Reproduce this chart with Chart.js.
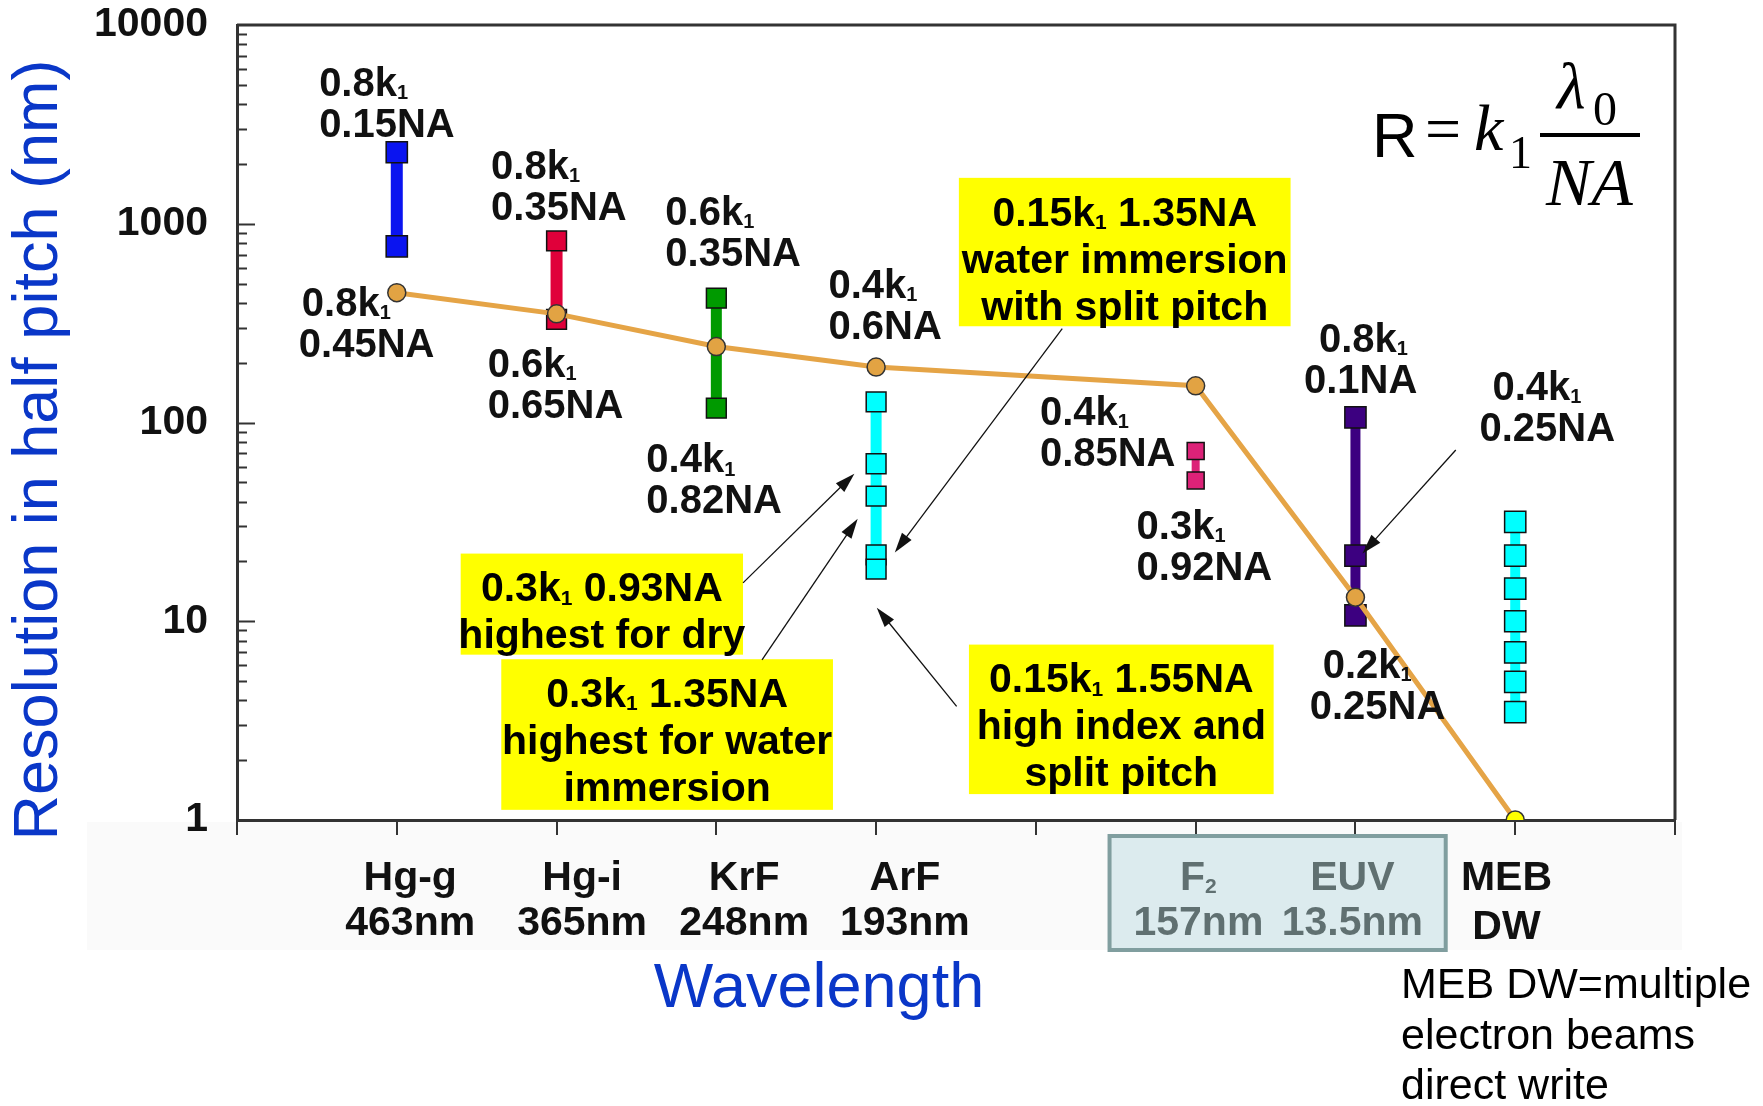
<!DOCTYPE html>
<html>
<head>
<meta charset="utf-8">
<script src="https://cdn.jsdelivr.net/npm/chart.js@4.4.0/dist/chart.umd.min.js"></script>
<style>
  html, body { margin: 0; padding: 0; background: #fff; }
  canvas { display: block; }
</style>
</head>
<body>
<canvas id="graf" width="1763" height="1106"></canvas>
<script>
// --- data ----------------------------------------------------------------
var categories = ['Hg-g', 'Hg-i', 'KrF', 'ArF', '', 'F~2', 'EUV', 'MEB'];
var wavelengths = ['463nm', '365nm', '248nm', '193nm', '', '157nm', '13.5nm', 'DW'];
var xLabelPos = [1.084, 2.16, 3.174, 4.18, 5, 6.017, 6.981, 7.945];
var yTicks = [1, 10, 100, 1000, 10000];

// orange line, resolution at each source (nm)
var lineX = [1, 2, 3, 4, 6, 7, 8];
var lineY = [450, 352, 241, 190, 153, 13.2, 1];

// range bars (nm)
var hggRange = [2290, 770];
var hgiRange = [820, 330];
var krfRange = [422, 118];
var arfRange = [127, 62, 42.6, 21.6, 18.3];
var f2Range = [71.8, 51.1];
var euvRange = [106, 21.4, 10.7];
var mebRange = [31.6, 21.4, 14.6, 10.0, 6.97, 4.96, 3.49];

// k1 / NA labels (x in category units, y in nm = middle of first line)
var kLabels = [
  {lines: ['0.8k~1', '0.15NA'], x: 0.514, y: 5212, indent: 0},
  {lines: ['0.8k~1', '0.35NA'], x: 1.590, y: 1988, indent: 0},
  {lines: ['0.6k~1', '0.35NA'], x: 2.681, y: 1165, indent: 0},
  {lines: ['0.4k~1', '0.6NA'], x: 3.702, y: 500, indent: 0},
  {lines: ['0.8k~1', '0.45NA'], x: 0.387, y: 405, indent: 3},
  {lines: ['0.6k~1', '0.65NA'], x: 1.569, y: 201, indent: 0},
  {lines: ['0.4k~1', '0.82NA'], x: 2.562, y: 66.3, indent: 0},
  {lines: ['0.4k~1', '0.85NA'], x: 5.025, y: 115, indent: 0},
  {lines: ['0.3k~1', '0.92NA'], x: 5.630, y: 30.8, indent: 0},
  {lines: ['0.8k~1', '0.1NA'], x: 6.678, y: 267, indent: 15},
  {lines: ['0.4k~1', '0.25NA'], x: 7.776, y: 153, indent: 13},
  {lines: ['0.2k~1', '0.25NA'], x: 6.714, y: 6.11, indent: 13}
];

// yellow notes (corners in category units / nm)
var notes = [
  {lines: ['0.15k~1 1.35NA', 'water immersion', 'with split pitch'], x0: 4.518, x1: 6.594, y0: 1702, y1: 305},
  {lines: ['0.3k~1 0.93NA', 'highest for dry'], x0: 1.400, x1: 3.167, y0: 21.9, y1: 6.79},
  {lines: ['0.3k~1 1.35NA', 'highest for water', 'immersion'], x0: 1.654, x1: 3.730, y0: 6.44, y1: 1.125},
  {lines: ['0.15k~1 1.55NA', 'high index and', 'split pitch'], x0: 4.581, x1: 6.488, y0: 7.63, y1: 1.35}
];

var arrows = [
  {from: [5.165, 297], to: [4.117, 22.2]},
  {from: [3.167, 15.6], to: [3.864, 55.3]},
  {from: [3.286, 6.4], to: [3.885, 32.8]},
  {from: [4.504, 3.73], to: [4.004, 11.7]},
  {from: [7.628, 72.7], to: [7.044, 21.9]}
];

var FONT = "'Liberation Sans', Arial, sans-serif";
var SERIF = "'Liberation Serif', 'Times New Roman', serif";

// --- helpers ---------------------------------------------------------------
function rangeSet(xPos, values, color, barWidth, size) {
  return {
    data: values.map(function (v) { return {x: xPos, y: v}; }),
    showLine: true,
    borderColor: color,
    borderWidth: barWidth,
    borderCapStyle: 'butt',
    pointStyle: 'rect',
    pointRadius: size,
    pointBackgroundColor: color,
    pointBorderColor: '#111',
    pointBorderWidth: 1.5
  };
}

function pieces(text) {
  var out = [];
  text.split('~').forEach(function (p, i) {
    if (i === 0) {
      if (p) out.push({t: p, sub: false});
    } else {
      out.push({t: p.charAt(0), sub: true});
      if (p.length > 1) out.push({t: p.slice(1), sub: false});
    }
  });
  return out;
}

// text with "~" marking a subscript character
function drawRich(c, text, x, yMid, size, align, color, weight) {
  var ps = pieces(text);
  var w = 0;
  ps.forEach(function (p) {
    c.font = weight + ' ' + (p.sub ? Math.round(size * 0.5) : size) + 'px ' + FONT;
    p.w = c.measureText(p.t).width;
    w += p.w;
  });
  var cx = align === 'center' ? x - w / 2 : (align === 'right' ? x - w : x);
  var base = yMid + size * 0.36;
  c.fillStyle = color;
  c.textAlign = 'left';
  c.textBaseline = 'alphabetic';
  ps.forEach(function (p) {
    c.font = weight + ' ' + (p.sub ? Math.round(size * 0.5) : size) + 'px ' + FONT;
    c.fillText(p.t, cx, p.sub ? base + size * 0.08 : base);
    cx += p.w;
  });
}

var extras = {
  id: 'extras',
  beforeDraw: function (chart) {
    var c = chart.ctx;
    c.save();
    c.fillStyle = '#fafafa';
    c.fillRect(87, chart.chartArea.bottom + 2, 1595, 950 - chart.chartArea.bottom - 2);
    c.restore();
  },
  afterDraw: function (chart) {
    var c = chart.ctx, a = chart.chartArea;
    var xs = chart.scales.x, ys = chart.scales.y;
    function X(v) { return xs.getPixelForValue(v); }
    function Y(v) { return ys.getPixelForValue(v); }
    c.save();

    // frame top & right
    c.strokeStyle = '#333';
    c.lineWidth = 3;
    c.beginPath();
    c.moveTo(a.left, a.top); c.lineTo(a.right, a.top); c.lineTo(a.right, a.bottom);
    c.stroke();

    // inward ticks on the log axis
    c.lineWidth = 2;
    for (var d = 0; d < 4; d++) {
      for (var m = 1; m <= 9; m++) {
        var v = m * Math.pow(10, d);
        var py = Math.round(Y(v)) + 0.5;
        c.beginPath();
        c.moveTo(a.left, py);
        c.lineTo(a.left + (m === 1 ? 18 : 10), py);
        c.stroke();
      }
    }

    // yellow notes
    notes.forEach(function (n) {
      var l = X(n.x0), r = X(n.x1), t = Y(n.y0), b = Y(n.y1);
      c.fillStyle = '#ffff00';
      c.fillRect(l, t, r - l, b - t);
      n.lines.forEach(function (s, i) {
        drawRich(c, s, (l + r) / 2, t + 33 + i * 47, 41, 'center', '#000', 'bold');
      });
    });

    // arrows
    c.strokeStyle = '#111';
    c.fillStyle = '#111';
    c.lineWidth = 1.3;
    arrows.forEach(function (ar) {
      var x0 = X(ar.from[0]), y0 = Y(ar.from[1]), x1 = X(ar.to[0]), y1 = Y(ar.to[1]);
      var ang = Math.atan2(y1 - y0, x1 - x0);
      c.beginPath();
      c.moveTo(x0, y0);
      c.lineTo(x1 - 12 * Math.cos(ang), y1 - 12 * Math.sin(ang));
      c.stroke();
      c.beginPath();
      c.moveTo(x1, y1);
      c.lineTo(x1 - 20 * Math.cos(ang) + 6 * Math.sin(ang), y1 - 20 * Math.sin(ang) - 6 * Math.cos(ang));
      c.lineTo(x1 - 20 * Math.cos(ang) - 6 * Math.sin(ang), y1 - 20 * Math.sin(ang) + 6 * Math.cos(ang));
      c.closePath();
      c.fill();
    });

    // k1 / NA labels
    kLabels.forEach(function (k) {
      var px = X(k.x), py = Y(k.y);
      drawRich(c, k.lines[0], px + k.indent, py, 40, 'left', '#111', 'bold');
      drawRich(c, k.lines[1], px, py + 41, 40, 'left', '#111', 'bold');
    });

    // F2 / EUV box under the axis
    var bl = X(5.461), br = X(7.565);
    c.fillStyle = '#dcebee';
    c.fillRect(bl, a.bottom + 16, br - bl, 114);
    c.strokeStyle = '#809e9f';
    c.lineWidth = 4;
    c.strokeRect(bl, a.bottom + 16, br - bl, 114);

    // category labels
    categories.forEach(function (cat, i) {
      if (!cat) return;
      var gray = (i === 5 || i === 6);
      var col = gray ? '#607071' : '#111';
      var px = X(xLabelPos[i]);
      drawRich(c, cat, px, a.bottom + 55, 41, 'center', col, 'bold');
      drawRich(c, wavelengths[i], px, a.bottom + (i === 7 ? 104 : 100), 41, 'center', col, 'bold');
    });

    // axis titles
    c.fillStyle = '#0a37c8';
    c.font = '63px ' + FONT;
    c.textAlign = 'center';
    c.textBaseline = 'middle';
    c.fillText('Wavelength', 819, 990);
    c.save();
    c.translate(40, 450);
    c.rotate(-Math.PI / 2);
    c.fillText('Resolution in half pitch (nm)', 0, 0);
    c.restore();

    // footnote
    c.fillStyle = '#000';
    c.font = '43px ' + FONT;
    c.textAlign = 'left';
    c.textBaseline = 'middle';
    c.fillText('MEB DW=multiple', 1401, 986);
    c.fillText('electron beams', 1401, 1037);
    c.fillText('direct write', 1401, 1087);

    // formula R = k1 lambda0 / NA
    c.textBaseline = 'alphabetic';
    c.font = '63px ' + FONT;
    c.fillText('R', 1372, 157);
    c.font = '64px ' + SERIF;
    c.fillText('=', 1425, 150);
    c.font = 'italic 66px ' + SERIF;
    c.fillText('k', 1474, 150);
    c.font = '46px ' + SERIF;
    c.fillText('1', 1509, 168);
    c.font = 'italic 66px ' + SERIF;
    c.fillText('\u03bb', 1557, 108);
    c.font = '48px ' + SERIF;
    c.fillText('0', 1593, 125);
    c.fillRect(1540, 133, 100, 4);
    c.font = 'italic 68px ' + SERIF;
    c.fillText('NA', 1546, 205);

    c.restore();
  }
};

// --- chart -----------------------------------------------------------------
var pointFill = lineX.map(function (x, i) { return i === lineX.length - 1 ? '#ffff00' : '#e2a343'; });

var datasets = [
  {
    data: lineX.map(function (x, i) { return {x: x, y: lineY[i]}; }),
    showLine: true,
    borderColor: '#e5a446',
    borderWidth: 5,
    pointRadius: 9,
    pointBackgroundColor: pointFill,
    pointBorderColor: '#333',
    pointBorderWidth: 1.5,
    clip: {left: 10, top: 10, right: 10, bottom: 0}
  },
  rangeSet(1, hggRange, '#0a14f0', 12, 15),
  rangeSet(2, hgiRange, '#e0003a', 12, 14),
  rangeSet(3, krfRange, '#009a00', 11, 14),
  rangeSet(4, arfRange, '#00ffff', 11, 14),
  rangeSet(6, f2Range, '#dc2278', 8, 12),
  rangeSet(7, euvRange, '#3c0080', 10, 15),
  rangeSet(8, mebRange, '#00ffff', 10, 15)
];

var ctx = document.getElementById('graf').getContext('2d');
var myChart = new Chart(ctx, {
  type: 'scatter',
  data: {datasets: datasets},
  options: {
    responsive: false,
    animation: false,
    devicePixelRatio: 1,
    layout: {padding: {top: 25, left: 0, right: 88, bottom: 271}},
    plugins: {legend: {display: false}, tooltip: {enabled: false}},
    scales: {
      x: {
        type: 'linear', min: 0, max: 9,
        ticks: {display: false, stepSize: 1},
        grid: {drawOnChartArea: false, tickLength: 15, lineWidth: 2, color: '#333'},
        border: {color: '#333', width: 3},
        afterFit: function (s) { s.height = 15; s.paddingLeft = 0; s.paddingRight = 0; }
      },
      y: {
        type: 'logarithmic', min: 1, max: 10000,
        ticks: {
          autoSkip: false, padding: 29, color: '#111',
          font: {family: FONT, size: 41, weight: 'bold'},
          callback: function (v) { return yTicks.indexOf(v) >= 0 ? String(v) : ''; }
        },
        grid: {display: false, drawTicks: false},
        border: {color: '#333', width: 3},
        afterFit: function (s) { s.width = 237; s.paddingTop = 0; s.paddingBottom = 0; }
      }
    }
  },
  plugins: [extras]
});
</script>
</body>
</html>
